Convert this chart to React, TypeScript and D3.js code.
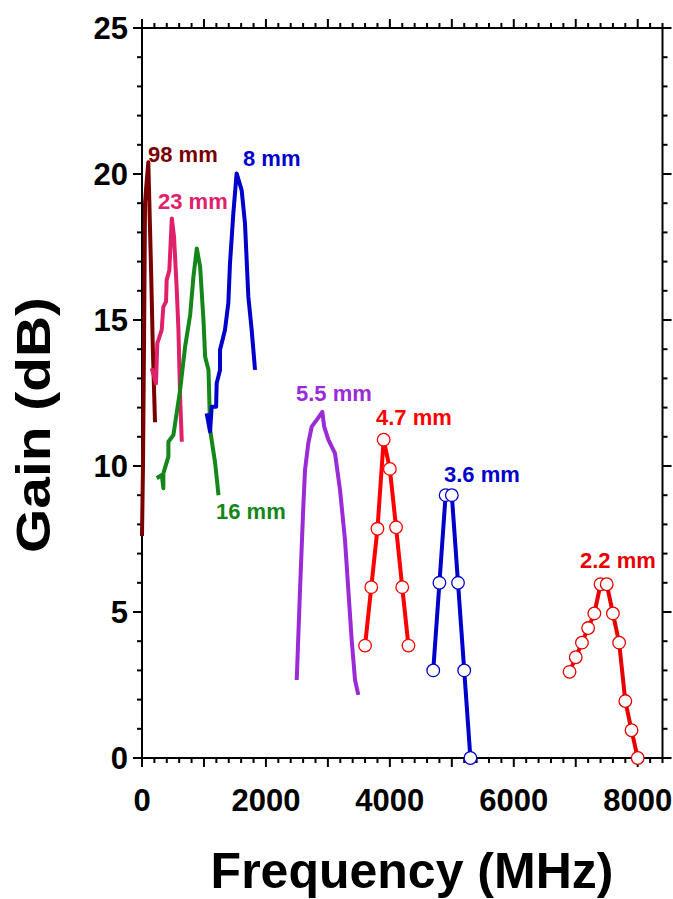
import React from "react";
import * as d3 from "d3";

// ---- Data ----
const f98 = [0, 16, 32, 49, 70, 102, 125, 150, 175, 210];
const g98 = [7.6, 10, 14, 19.0, 19.6, 20.4, 18.5, 16.4, 14.0, 11.5];

const f23 = [157, 226, 247, 318, 344, 388, 398, 441, 481, 517, 561, 588, 615, 642];
const g23 = [13.35, 12.83, 14.2, 14.66, 15.45, 15.63, 16.37, 16.7, 18.48, 17.85, 16.03, 14.66, 12.37, 10.83];

const f16 = [238, 319, 345, 345, 426, 426, 507, 615, 696, 777, 830, 884, 938, 992, 1019, 1073, 1100, 1181, 1235];
const g16 = [9.58, 9.69, 9.24, 9.75, 10.32, 10.83, 11.06, 12.6, 14.09, 15.17, 16.48, 17.45, 16.83, 15.0, 13.74, 13.29, 11.23, 10.09, 9.0];

const f8 = [1044, 1098, 1125, 1196, 1205, 1259, 1259, 1339, 1393, 1420, 1474, 1527, 1608, 1662, 1716, 1770, 1824];
const g8 = [11.8, 11.18, 12.03, 12.03, 12.83, 13.29, 13.97, 14.66, 15.57, 16.94, 18.65, 20.02, 19.45, 18.31, 15.8, 14.66, 13.29];

const f55 = [2497, 2550, 2603, 2631, 2684, 2739, 2820, 2910, 2940, 3007, 3115, 3196, 3276, 3330, 3384, 3438, 3491];
const g55 = [2.67, 5.75, 8.6, 9.86, 10.78, 11.35, 11.58, 11.85, 11.35, 10.9, 10.43, 9.18, 7.47, 5.75, 4.04, 2.67, 2.16];

const f47 = [3600, 3700, 3800, 3900, 4000, 4100, 4200, 4300];
const g47 = [3.85, 5.85, 7.85, 10.9, 9.9, 7.9, 5.85, 3.85];

const f36 = [4700, 4800, 4900, 5000, 5100, 5200, 5300];
const g36 = [3, 6, 9, 9, 6, 3, 0];

const f22 = [6900, 7000, 7100, 7200, 7300, 7400, 7500, 7600, 7700, 7800, 7900, 8000];
const g22 = [2.95, 3.45, 3.95, 4.45, 4.95, 5.95, 5.95, 4.95, 3.95, 1.95, 0.95, 0];

const xTickLabels = [0, 2000, 4000, 6000, 8000];
const yTickLabels = [0, 5, 10, 15, 20, 25];

type Series = { name: string; f: number[]; g: number[]; color: string; markers: boolean; lx: number; ly: number };

const series: Series[] = [
  { name: "98 mm", f: f98, g: g98, color: "#7a0000", markers: false, lx: 148, ly: 162 },
  { name: "23 mm", f: f23, g: g23, color: "#e0206a", markers: false, lx: 158, ly: 209 },
  { name: "16 mm", f: f16, g: g16, color: "#15861a", markers: false, lx: 216, ly: 519 },
  { name: "8 mm", f: f8, g: g8, color: "#0000cc", markers: false, lx: 243, ly: 166 },
  { name: "5.5 mm", f: f55, g: g55, color: "#9a2bd6", markers: false, lx: 296, ly: 401 },
  { name: "4.7 mm", f: f47, g: g47, color: "#ff0000", markers: true, lx: 376, ly: 425 },
  { name: "3.6 mm", f: f36, g: g36, color: "#0000cc", markers: true, lx: 444, ly: 482 },
  { name: "2.2 mm", f: f22, g: g22, color: "#e60000", markers: true, lx: 580, ly: 568 },
];

const FONT = "'Liberation Sans', Arial, Helvetica, sans-serif";

export default function App() {
  const W = 673, H = 899;
  const x = d3.scaleLinear().domain([0, 8400]).range([142, 662.5]);
  const y = d3.scaleLinear().domain([0, 25]).range([758, 28]);
  const line = d3.line<[number, number]>().x(d => x(d[0])).y(d => y(d[1]));

  const xTicks = d3.range(0, 8401, 200);
  const yTicks = d3.range(0, 26, 1);
  const [x0, x1] = x.range();
  const [y0, y1] = y.range();

  return (
    <svg width={W} height={H} style={{ position: "absolute", left: 0, top: 0, background: "#fff" }} fontFamily={FONT}>
      {/* frame */}
      <rect x={x0} y={y1} width={x1 - x0} height={y0 - y1} fill="none" stroke="#000" strokeWidth={2} />
      {/* x ticks bottom and top */}
      {xTicks.map(v => {
        const len = v % 1000 === 0 ? 9 : 5;
        return (
          <g key={"xt" + v}>
            <line x1={x(v)} x2={x(v)} y1={y0} y2={y0 + len} stroke="#000" strokeWidth={2} />
            <line x1={x(v)} x2={x(v)} y1={y1} y2={y1 - len} stroke="#000" strokeWidth={2} />
          </g>
        );
      })}
      {yTicks.map(v => {
        const len = v % 5 === 0 ? 9 : 5;
        return (
          <g key={"yt" + v}>
            <line x1={x0} x2={x0 - len} y1={y(v)} y2={y(v)} stroke="#000" strokeWidth={2} />
            <line x1={x1} x2={x1 + len} y1={y(v)} y2={y(v)} stroke="#000" strokeWidth={2} />
          </g>
        );
      })}
      {xTickLabels.map(v => (
        <text key={"xl" + v} x={x(v)} y={811} textAnchor="middle" fontSize={31} fontWeight="bold">{v}</text>
      ))}
      {yTickLabels.map(v => (
        <text key={"yl" + v} x={128} y={y(v)} dy="0.36em" textAnchor="end" fontSize={31} fontWeight="bold">{v}</text>
      ))}
      <text x={412} y={888} textAnchor="middle" fontSize={50} fontWeight="bold">Frequency (MHz)</text>
      <text transform="translate(50,425) rotate(-90)" textAnchor="middle" fontSize={48} fontWeight="bold"
        textLength={256} lengthAdjust="spacingAndGlyphs">Gain (dB)</text>

      {series.map(s => {
        const pts = s.f.map((f, i) => [f, s.g[i]] as [number, number]);
        return (
          <g key={s.name}>
            <path d={line(pts) || ""} fill="none" stroke={s.color} strokeWidth={4} strokeLinejoin="round" strokeLinecap="butt" />
            {s.markers && pts.map((p, i) => (
              <circle key={i} cx={x(p[0])} cy={y(p[1])} r={6.3} fill="#fff" stroke={s.color} strokeWidth={1.3} />
            ))}
            <text x={s.lx} y={s.ly} fontSize={22} fontWeight="bold" fill={s.color}>{s.name}</text>
          </g>
        );
      })}
    </svg>
  );
}
